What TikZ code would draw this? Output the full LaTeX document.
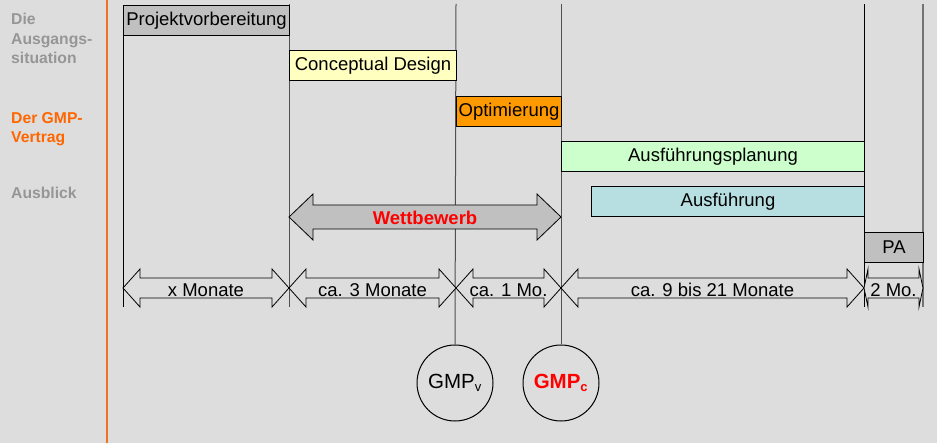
\documentclass[tikz,border=0pt]{standalone}
\usepackage{fontspec}
\setmainfont{Liberation Sans}
\definecolor{bg}{HTML}{DDDDDD}
\definecolor{sidegray}{HTML}{969696}
\definecolor{sideorange}{HTML}{FF6600}
\definecolor{sepline}{HTML}{F07020}
\definecolor{pvfill}{HTML}{C0C0C0}
\definecolor{cdfill}{HTML}{FFFFC0}
\definecolor{opfill}{HTML}{FF9900}
\definecolor{apfill}{HTML}{CCFFCC}
\definecolor{aufill}{HTML}{B7DEE0}
\definecolor{vline}{HTML}{505050}
\newcommand\dblarr[7]{%
 \draw[#7] (#1,#3) -- (#1+#6,#3-#5) -- (#1+#6,#3-#4) -- (#2-#6,#3-#4) -- (#2-#6,#3-#5) -- (#2,#3)
 -- (#2-#6,#3+#5) -- (#2-#6,#3+#4) -- (#1+#6,#3+#4) -- (#1+#6,#3+#5) -- cycle;}
\begin{document}
\begin{tikzpicture}[x=1pt,y=-1pt,
  phase/.style={draw=black, line width=1pt, inner sep=0pt, minimum height=30pt, anchor=north west,
    font=\fontsize{18.5}{20}\selectfont, text=black},
  side/.style={anchor=base west, align=left, inner sep=0pt, font=\fontsize{15.7}{19.7}\selectfont\bfseries},
  tl/.style={vline, line width=1pt},
  dur/.style={font=\fontsize{18.5}{20}\selectfont, inner sep=0pt},
  gmp/.style={circle, draw=black, line width=1pt, minimum size=76pt, inner sep=0pt, fill=bg}]
\fill[bg] (0,0) rectangle (937,443);
\useasboundingbox (0,0) rectangle (937,443);
% sidebar
\draw[sepline, line width=1.2pt] (107,0) -- (107,443);
\node[side, text=sidegray] (s1) at (11,64) {Die\\Ausgangs-\\situation};
\node[side, text=sideorange] (s2) at (11,143) {Der GMP-\\Vertrag};
\node[side, text=sidegray] (s3) at (11,199) {Ausblick};
% timeline coordinates
\coordinate (t1) at (289,4); \coordinate (b1) at (289,307);
\coordinate (t2) at (456,4);
\coordinate (t3) at (561,4);
\coordinate (t4) at (864,4); \coordinate (b4) at (864,307);
\coordinate (t5) at (923,4); \coordinate (b5) at (923,307);
\coordinate (b0) at (123,307);
% circles
\node[gmp, font=\fontsize{20.5}{22}\selectfont] (gv) at (455,383) {GMP\textsubscript{\fontsize{13}{13}\selectfont v}};
\node[gmp, font=\fontsize{20.5}{22}\selectfont\bfseries, text=red] (gc) at (561,383) {GMP\textsubscript{\fontsize{13}{13}\selectfont c}};
% vertical lines
\draw[tl] (t1) -- (b1);
\draw[tl] (t2) -- (gv.north);
\draw[tl] (t3) -- (gc.north);
\draw[black, line width=1pt] (t4) -- (b4);
\draw[vline!80, line width=1.2pt] (t5) -- (b5);
% phases
\node[phase, fill=pvfill, minimum width=166pt] (pv) at (123,5) {Projektvorbereitung};
\draw[black, line width=1pt] (pv.south west) -- (b0);
\node[phase, fill=cdfill, minimum width=167pt] (cd) at (289,50) {Conceptual Design};
\node[phase, fill=opfill, minimum width=105pt] (op) at (456,96) {Optimierung};
\node[phase, fill=apfill, minimum width=303pt] (ap) at (561,141) {Ausführungsplanung};
\node[phase, fill=aufill, minimum width=273pt] (au) at (591,186) {Ausführung};
\node[phase, fill=pvfill, minimum width=59pt] (pa) at (864,232) {PA};
% Wettbewerb
\dblarr{289}{561}{217}{12}{23}{24}{draw=black, line width=0.8pt, fill=pvfill}
\node[font=\fontsize{18.5}{20}\selectfont\bfseries, text=red, inner sep=0pt] (wb) at (425,218) {Wettbewerb};
% durations
\dblarr{123}{289}{288}{10}{19}{17}{draw=black, line width=0.8pt, fill=bg}
\dblarr{289}{456}{288}{10}{19}{17}{draw=black, line width=0.8pt, fill=bg}
\dblarr{456}{561}{288}{10}{19}{17}{draw=black, line width=0.8pt, fill=bg}
\dblarr{561}{864}{288}{10}{19}{17}{draw=black, line width=0.8pt, fill=bg}
\dblarr{864}{923}{288}{10}{19}{4}{draw=black, line width=0.8pt, fill=bg}
\node[dur] (d1) at (206,290) {x Monate};
\node[dur] (d2) at (372.5,290) {ca. 3 Monate};
\node[dur] (d3) at (508.5,290) {ca. 1 Mo.};
\node[dur] (d4) at (712.5,290) {ca. 9 bis 21 Monate};
\node[dur] (d5) at (893.5,290) {2 Mo.};
\end{tikzpicture}
\end{document}
